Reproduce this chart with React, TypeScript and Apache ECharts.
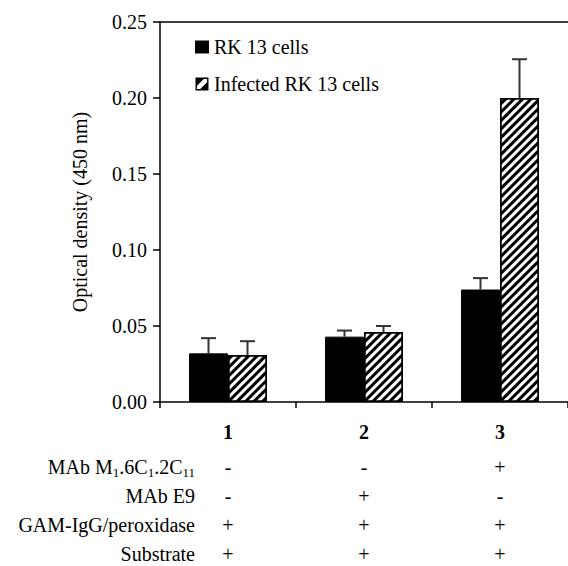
import React, { useEffect, useRef } from "react";
import * as echarts from "echarts";

const categories = ["1", "2", "3"];
const rk13 = [0.032, 0.043, 0.074];
const rk13Err = [0.010, 0.004, 0.0075];
const infected = [0.031, 0.046, 0.2];
const infectedErr = [0.009, 0.004, 0.0255];
const yTicks = { min: 0, max: 0.25, interval: 0.05 };

const rowLabels = ["MAb M{sub|1}.6C{sub|1}.2C{sub|11}", "MAb E9", "GAM-IgG/peroxidase", "Substrate"];
const mabM1 = ["-", "-", "+"];
const mabE9 = ["-", "+", "-"];
const gamIgG = ["+", "+", "+"];
const substrate = ["+", "+", "+"];
const signRows = [mabM1, mabE9, gamIgG, substrate];

const FONT = "Liberation Serif";
const BAR_W = 39;
const serif = { fontSize: 20, fontFamily: FONT, color: "#000" };

function errSeries(name: string, vals: number[], errs: number[], offset: number) {
  return {
    type: "custom",
    name: name + " error",
    z: 5,
    silent: true,
    data: categories.map((_, i) => [i, vals[i], vals[i] + errs[i]]),
    encode: { x: 0, y: [1, 2] },
    renderItem: (params: any, api: any) => {
      const idx = api.value(0);
      const base = api.coord([idx, api.value(1)]);
      const top = api.coord([idx, api.value(2)]);
      const x = base[0] + offset;
      const st = { stroke: "#333", lineWidth: 2 };
      return {
        type: "group",
        children: [
          { type: "line", shape: { x1: x, y1: base[1], x2: x, y2: top[1] }, style: st },
          { type: "line", shape: { x1: x - 7.5, y1: top[1], x2: x + 7.5, y2: top[1] }, style: st },
        ],
      };
    },
  };
}

export default function App() {
  const ref = useRef<HTMLDivElement>(null);
  useEffect(() => {
    if (!ref.current) return;
    const chart = echarts.init(ref.current, null, { renderer: "svg" });
    const hatchIcon =
      "path://M0,0H14V1.5H0Z M0,12.5H14V14H0Z M0,0H1.5V14H0Z M12.5,0H14V14H12.5Z M0,0L10.5,0L0,10.5Z M14,3.5L14,14L3.5,14Z";
    const option: any = {
      animation: false,
      textStyle: { fontFamily: FONT, color: "#000" },
      grid: { left: 160, top: 22, right: 0, bottom: 164, containLabel: false },
      legend: {
        orient: "vertical",
        left: 190,
        top: 32,
        itemWidth: 14,
        itemHeight: 13,
        itemGap: 17,
        textStyle: { ...serif },
        data: [
          { name: "RK 13 cells", icon: "rect", itemStyle: { color: "#000", borderWidth: 0 } },
          { name: "Infected RK 13 cells", icon: hatchIcon, itemStyle: { color: "#000", borderWidth: 0, decal: "none" } },
        ],
      },
      xAxis: [
        {
          type: "category",
          data: categories,
          position: "bottom",
          axisLine: { lineStyle: { color: "#000", width: 1.5 } },
          axisTick: { show: true, length: 6, lineStyle: { color: "#000", width: 1.5 } },
          axisLabel: {
            margin: 10,
            color: "#000",
            fontFamily: FONT,
            formatter: (value: string, index: number) =>
              `{n|${value}}\n` + signRows.map((r) => `{s|${r[index]}}`).join("\n"),
            rich: {
              n: { ...serif, fontWeight: "bold", lineHeight: 40 },
              s: { ...serif, lineHeight: 29 },
            },
          },
        },
        {
          type: "category",
          data: categories,
          position: "top",
          axisLine: { show: true, lineStyle: { color: "#000", width: 1.5 } },
          axisTick: { show: false },
          axisLabel: { show: false },
        },
      ],
      yAxis: {
        type: "value",
        min: yTicks.min,
        max: yTicks.max,
        interval: yTicks.interval,
        splitLine: { show: false },
        axisLine: { show: true, lineStyle: { color: "#000", width: 1.5 } },
        axisTick: { show: true, length: 7, lineStyle: { color: "#000", width: 1.5 } },
        axisLabel: {
          margin: 13,
          ...serif,
          formatter: (v: number) => v.toFixed(2),
        },
        name: "Optical density (450 nm)",
        nameLocation: "middle",
        nameRotate: 90,
        nameGap: 70,
        nameTextStyle: { ...serif },
      },
      graphic: rowLabels.map((t, i) => ({
        type: "text",
        x: 195,
        y: 466.5 + i * 29,
        style: {
          text: t,
          fontSize: 20,
          fontFamily: FONT,
          fill: "#000",
          textAlign: "right",
          textVerticalAlign: "middle",
          rich: { sub: { fontSize: 13, fontFamily: FONT, fill: "#000", padding: [12, 0, 0, 0] } },
        },
      })),
      series: [
        {
          type: "bar",
          name: "RK 13 cells",
          data: rk13,
          barWidth: BAR_W,
          barGap: "0%",
          itemStyle: { color: "#000", borderColor: "#000", borderWidth: 1 },
        },
        {
          type: "bar",
          name: "Infected RK 13 cells",
          data: infected,
          barWidth: BAR_W,
          barGap: "0%",
          itemStyle: {
            color: "#fff",
            borderColor: "#000",
            borderWidth: 1.5,
            decal: {
              symbol: "rect",
              symbolSize: 1,
              color: "#000",
              dashArrayX: [1, 0],
              dashArrayY: [3, 2.8],
              rotation: -Math.PI / 4,
            },
          },
        },
        errSeries("RK 13 cells", rk13, rk13Err, -BAR_W / 2),
        errSeries("Infected RK 13 cells", infected, infectedErr, BAR_W / 2),
      ],
    };
    chart.setOption(option);
    return () => chart.dispose();
  }, []);
  return (
    <>
      <style>{`.od-chart svg text, .od-chart svg tspan { font-family: 'Liberation Serif', serif !important; }`}</style>
      <div
        ref={ref}
        className="od-chart"
        style={{ position: "absolute", left: 0, top: 0, width: 568, height: 566, background: "#fff" }}
      />
    </>
  );
}
